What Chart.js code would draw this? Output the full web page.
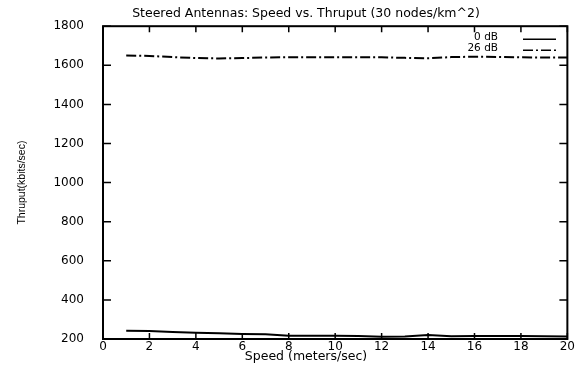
<html>
  <head>
    <title>Steered Antennas: Speed vs. Thruput</title>
    <script src="https://cdn.jsdelivr.net/npm/chart.js@4.4.1/dist/chart.umd.min.js"></script>
    <style>
      body { margin:0; padding:0; background:#fff; }
      #wrap { width:576px; height:366px; }
    </style>
  </head>
  <body>
    <div id="wrap"><canvas id="myChart"></canvas></div>
    <script>
      // values
      var speeds = [1, 2, 3, 4, 5, 6, 7, 8, 9, 10, 11, 12, 13, 14, 15, 16, 17, 18, 19, 20];
      var thru0dB = [242, 241, 236, 232, 230, 226, 224, 217, 217, 216, 215, 212, 213, 220, 214, 215, 215, 215, 214, 213];
      var thru26dB = [1650, 1648, 1642, 1637, 1635, 1637, 1640, 1641, 1641, 1641, 1641, 1641, 1638, 1636, 1642, 1644, 1643, 1641, 1640, 1640];
      var xTicks = [0, 2, 4, 6, 8, 10, 12, 14, 16, 18, 20];
      var yTicks = [200, 400, 600, 800, 1000, 1200, 1400, 1600, 1800];
      var seriesNames = ['0 dB', '26 dB'];
      var chartTitle = 'Steered Antennas: Speed vs. Thruput (30 nodes/km^2)';
      var xTitle = 'Speed (meters/sec)';
      var yTitle = 'Thruput(kbits/sec)';

      var FONT = '"DejaVu Sans", sans-serif';

      function pts(vals) {
        return vals.map(function(v, i) { return {x: speeds[i], y: v}; });
      }

      // gnuplot style box, inward ticks, legend and titles
      var gnuplotBits = {
        id: 'gnuplotBits',
        afterDatasetsDraw: function(chart) {
          var ctx = chart.ctx, a = chart.chartArea;
          var x = chart.scales.x, y = chart.scales.y;
          ctx.save();
          ctx.strokeStyle = '#000';
          ctx.lineWidth = 1.5;
          ctx.beginPath();
          x.ticks.forEach(function(t, i) {
            var px = x.getPixelForTick(i);
            ctx.moveTo(px, a.bottom); ctx.lineTo(px, a.bottom - 6);
            ctx.moveTo(px, a.top); ctx.lineTo(px, a.top + 6);
          });
          y.ticks.forEach(function(t, i) {
            var py = y.getPixelForTick(i);
            ctx.moveTo(a.left, py); ctx.lineTo(a.left + 8, py);
            ctx.moveTo(a.right, py); ctx.lineTo(a.right - 8, py);
          });
          ctx.stroke();
          ctx.lineWidth = 2;
          ctx.strokeRect(a.left, a.top, a.right - a.left, a.bottom - a.top);

          // legend
          ctx.font = '10.5px ' + FONT;
          ctx.fillStyle = '#000';
          ctx.textAlign = 'right';
          ctx.textBaseline = 'middle';
          chart.data.datasets.forEach(function(ds, i) {
            var ly = a.top + 11 + i * 11;
            ctx.fillText(ds.label, 498, ly);
            ctx.setLineDash(ds.borderDash || []);
            ctx.lineWidth = 1.5;
            ctx.beginPath();
            ctx.moveTo(523, ly + 2);
            ctx.lineTo(556, ly + 2);
            ctx.stroke();
          });
          ctx.setLineDash([]);

          // titles
          ctx.font = '12.5px ' + FONT;
          ctx.textAlign = 'center';
          ctx.fillText(chartTitle, 306, 14);
          ctx.fillText(xTitle, 306, 357);
          ctx.restore();
        }
      };

      var ctx = document.getElementById('myChart').getContext('2d');
      var myChart = new Chart(ctx, {
        type: 'line',
        data: {
          datasets: [
            {
              label: seriesNames[0],
              data: pts(thru0dB),
              borderColor: '#000',
              borderWidth: 2,
              pointRadius: 0,
              fill: false
            },
            {
              label: seriesNames[1],
              data: pts(thru26dB),
              borderColor: '#000',
              borderWidth: 2,
              borderDash: [10, 3, 2, 3],
              pointRadius: 0,
              fill: false
            }
          ]
        },
        options: {
          responsive: true,
          maintainAspectRatio: false,
          animation: false,
          layout: { padding: { top: 23, right: 3, left: 0, bottom: 0 } },
          plugins: {
            legend: { display: false },
            title: { display: false },
            tooltip: { enabled: false }
          },
          scales: {
            x: {
              type: 'linear',
              min: xTicks[0],
              max: xTicks[xTicks.length - 1],
              afterBuildTicks: function(s) { s.ticks = xTicks.map(function(v) { return {value: v}; }); },
              afterFit: function(s) { s.height = 27; },
              grid: { display: false, drawTicks: false },
              border: { display: false },
              ticks: { color: '#000', font: { family: FONT, size: 12 }, padding: 1, maxRotation: 0,
                       callback: function(v) { return String(v); } }
            },
            y: {
              type: 'linear',
              min: yTicks[0],
              max: yTicks[yTicks.length - 1],
              afterBuildTicks: function(s) { s.ticks = yTicks.map(function(v) { return {value: v}; }); },
              afterFit: function(s) { s.width = 103; },
              grid: { display: false, drawTicks: false },
              border: { display: false },
              ticks: { color: '#000', font: { family: FONT, size: 12 }, padding: 19,
                       callback: function(v) { return String(v); } },
              title: {
                display: true,
                text: yTitle,
                color: '#000',
                font: { family: '"Liberation Sans Narrow", "Liberation Sans", sans-serif', size: 10.5 },
                padding: { top: 16, bottom: 0 }
              }
            }
          }
        },
        plugins: [gnuplotBits]
      });
    </script>
  </body>
</html>
